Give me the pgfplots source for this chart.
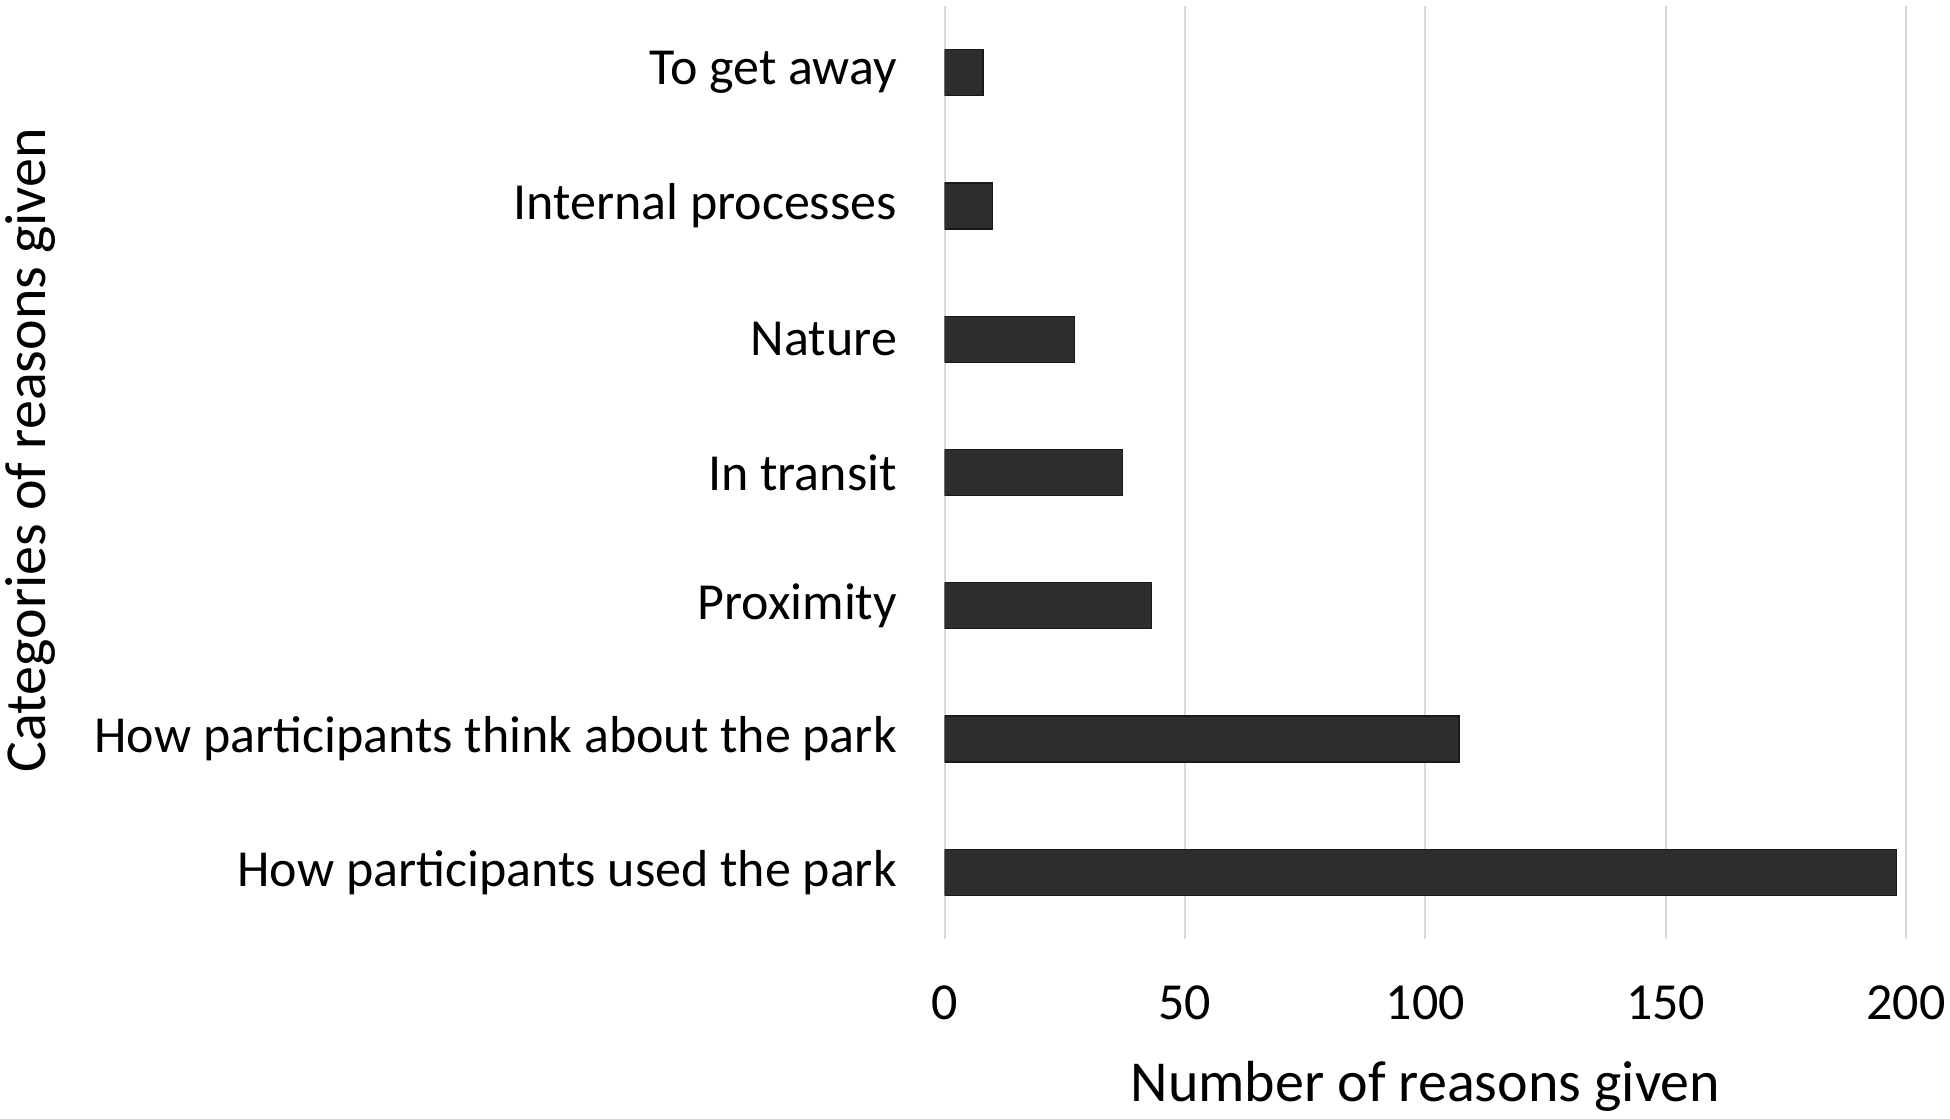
\documentclass[border=0pt]{standalone}
\usepackage{fontspec}
\setmainfont{Carlito}
\usepackage{pgfplots}
\pgfplotsset{compat=1.18}

\definecolor{barfill}{HTML}{2E2E2E}
\definecolor{gridgray}{HTML}{D9D9D9}

\begin{document}
\fontsize{13}{15.6}\selectfont
\begin{tikzpicture}
\useasboundingbox (0,0) rectangle (487.5pt,279.5pt);
\begin{axis}[
    at={(236.15pt,44.75pt)}, anchor=south west,
    scale only axis,
    width=240.35pt, height=233.25pt,
    xbar, bar width=11.5pt,
    xmin=0, xmax=200,
    ymin=-0.5, ymax=6.5,
    xtick={0,50,...,200},
    ytick={0,...,6},
    yticklabels={How participants used the park,
                 How participants think about the park,
                 Proximity, In transit, Nature,
                 Internal processes, To get away},
    axis line style={draw=none},
    major tick length=0pt,
    xmajorgrids, grid style={gridgray, line width=0.5pt},
    /pgf/number format/assume math mode=true,
    ticklabel style={font=\fontsize{13}{15.6}\selectfont},
    xticklabel style={yshift=-7.2pt},
    yticklabel style={xshift=-7.4pt},
    xlabel={Number of reasons given},
    ylabel={Categories of reasons given},
    label style={font=\fontsize{14.5}{17.4}\selectfont},
    xlabel style={at={(axis description cs:0.5,0)}, anchor=north, yshift=-26pt},
    ylabel style={at={(axis description cs:-0.951,0.524)}, anchor=center},
]
\addplot[fill=barfill, draw=black!90, line width=0.3pt] coordinates {
    (198,0)
    (107,1)
    (43,2)
    (37,3)
    (27,4)
    (10,5)
    (8,6)
};
\end{axis}
\end{tikzpicture}
\end{document}
